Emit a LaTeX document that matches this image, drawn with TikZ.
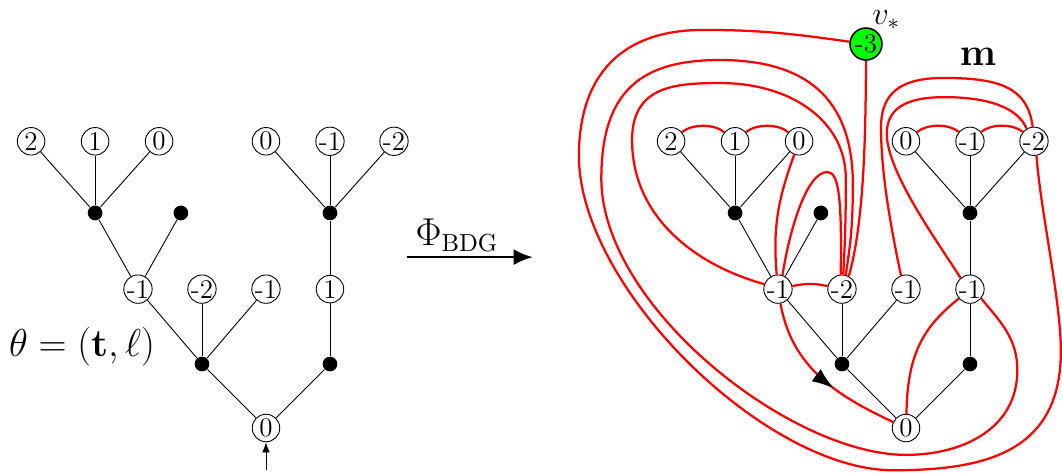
\documentclass[tikz,border=0pt]{standalone}
\usepackage{tikz}
\usetikzlibrary{arrows.meta,decorations.markings}

\tikzset{
  lab/.style={circle, draw, fill=white, inner sep=0pt, minimum size=0.43cm,
    font=\large},
  vdot/.style={circle, fill=black, inner sep=0pt, minimum size=0.23cm},
  redge/.style={red, line width=1pt},
  rootedge/.style={redge, postaction={decorate, decoration={markings,
      mark=at position 0.6 with {\arrow[black]{Latex[length=3.4mm,width=2.4mm]}}}}},
}

\begin{document}
\begin{tikzpicture}[line width=0.4pt]
  \useasboundingbox (-4.156,-0.688) rectangle (12.438,6.688);

  % the labelled tree, once on its own and once under the map
  \foreach \s/\dx/\lab in {l/0/1, r/10/-1} {
    \begin{scope}[xshift=\dx cm]
      \node[lab] (\s-root) at (0,0) {0};
      \node[vdot] (\s-d1) at (-1,1) {};
      \node[vdot] (\s-d2) at (1,1) {};
      \node[lab] (\s-c1) at (-2,2.17) {-1};
      \node[lab] (\s-c2) at (-1,2.17) {-2};
      \node[lab] (\s-c3) at (0,2.17) {-1};
      \node[lab] (\s-c4) at (1,2.17) {\lab};
      \node[vdot] (\s-e1) at (-2.67,3.36) {};
      \node[vdot] (\s-e2) at (-1.33,3.36) {};
      \node[vdot] (\s-e3) at (1,3.36) {};
      \node[lab] (\s-t1) at (-3.67,4.48) {2};
      \node[lab] (\s-t2) at (-2.67,4.48) {1};
      \node[lab] (\s-t3) at (-1.67,4.48) {0};
      \node[lab] (\s-t4) at (0,4.48) {0};
      \node[lab] (\s-t5) at (1,4.48) {-1};
      \node[lab] (\s-t6) at (2,4.48) {-2};
    \end{scope}
    \foreach \a/\b in {root/d1, root/d2, d1/c1, d1/c2, d1/c3, d2/c4, c1/e1, c1/e2,
                       e1/t1, e1/t2, e1/t3, c4/e3, e3/t4, e3/t5, e3/t6}
      \draw (\s-\a) -- (\s-\b);
  }

  % root edge and name of the tree
  \coordinate (l-in) at (0,-0.66);
  \draw[-{Latex[length=1.6mm,width=1.2mm]}] (l-in) -- (l-root);
  \node[font=\LARGE] (theta) at (-2.875,1.27) {$\theta=(\mathbf{t},\ell)$};

  % the bijection
  \coordinate (phi-a) at (2.2,2.67);
  \coordinate (phi-b) at (4.17,2.67);
  \draw[line width=1.2pt, -{Latex[length=3mm,width=2.5mm]}] (phi-a) --
    node[above, inner sep=2pt, xshift=-0.2cm, font=\fontsize{16}{19}\selectfont] {$\Phi_{\mathrm{BDG}}$} (phi-b);

  % edges of the map
  \begin{scope}[xshift=10cm]
    \node[lab, fill=green, line width=0.7pt, minimum size=0.5cm] (r-s) at (-0.625,6.0) {-3};
    \node[font=\Large, inner sep=0pt] (vstar) at (-0.31,6.38) {$v_*$};
    \node[font=\LARGE] (mlab) at (1.125,5.8) {$\mathbf{m}$};

    \foreach \a/\b in {t1/t2, t2/t3, t4/t5, t5/t6}
      \draw[redge] (r-\a) to[out=40, in=140, looseness=0.8] (r-\b);
    \draw[redge] (r-c1) to[bend left=12] (r-c2);
    \draw[redge] (r-t3) to[out=-110, in=95] (r-c1);
    \draw[redge] (r-c1.72) .. controls (-1.82,3.1) and (-1.55,4.0) .. (-1.23,4.0)
      .. controls (-1.05,4.0) and (-1.0,3.6) .. (r-c2.95);
    \draw[rootedge] (r-c1) to[out=-80, in=155] (r-root);
    \draw[redge] (r-c4.-140) .. controls (0.3,1.6) and (0.02,1.2) .. (r-root.88);
    \draw[redge] (r-s.-90) .. controls (-0.63,4.5) and (-0.66,3.2) .. (r-c2.62);
    % loops round the left subtree
    \draw[redge] (r-c1.160) .. controls (-3.3,2.55) and (-4.28,3.3) .. (-4.28,4.5)
      .. controls (-4.28,5.35) and (-3.6,5.39) .. (-2.9,5.39)
      .. controls (-1.8,5.39) and (-0.94,4.8) .. (-0.94,3.9)
      .. controls (-0.94,3.1) and (-0.96,2.8) .. (r-c2.85);
    \draw[redge] (r-c4.-40) to[out=-50, in=90] (1.74,0.9)
      .. controls (1.74,0.0) and (0.9,-0.42) .. (0.0,-0.42)
      .. controls (-1.8,-0.42) and (-4.76,1.9) .. (-4.76,3.9)
      .. controls (-4.76,5.3) and (-4.1,5.75) .. (-2.91,5.75)
      .. controls (-1.4,5.75) and (-0.83,5.0) .. (-0.83,3.8)
      .. controls (-0.83,3.0) and (-0.9,2.7) .. (r-c2.75);
    \draw[redge] (r-s.172) to[out=172, in=0] (-3.17,6.22)
      .. controls (-4.43,6.22) and (-5.11,5.53) .. (-5.11,4.25)
      .. controls (-5.11,2.2) and (-2.2,-0.66) .. (-0.2,-0.66)
      .. controls (1.2,-0.66) and (2.42,-0.4) .. (2.42,1.2)
      .. controls (2.42,2.0) and (2.1,3.4) .. (r-t6.-80);
    % loops round the right subtree
    \draw[redge] (r-c3.110) .. controls (-0.25,3.2) and (-0.39,4.0) .. (-0.39,4.7)
      .. controls (-0.39,5.3) and (0.0,5.47) .. (0.6,5.47)
      .. controls (1.5,5.47) and (1.9,5.3) .. (r-t6.95);
    \draw[redge] (r-c4.130) .. controls (0.5,2.9) and (-0.3,4.0) .. (-0.3,4.6)
      .. controls (-0.3,5.05) and (0.1,5.17) .. (0.6,5.17)
      .. controls (1.3,5.17) and (1.75,5.0) .. (r-t6.120);
  \end{scope}
\end{tikzpicture}
\end{document}
